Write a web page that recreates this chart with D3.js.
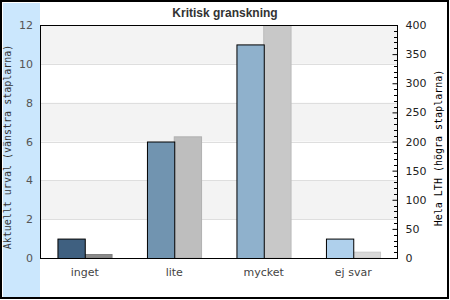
<!DOCTYPE html>
<html>
<head>
<meta charset="utf-8">
<script src="https://cdn.jsdelivr.net/npm/d3@7"></script>
<style>
  body { margin: 0; background: #fff; }
  svg { display: block; }
</style>
</head>
<body>
<svg id="chart" width="450" height="300"></svg>
<script>
// chart data
var categories = ["inget", "lite", "mycket", "ej svar"];
var leftValues = [1, 6, 11, 1];          // Aktuellt urval
var rightValues = [6, 208, 425, 10];     // Hela LTH
var leftColors = ["#3f6080", "#7194b0", "#8fb1cc", "#afd0ec"];
var rightColors = ["#8a8a8a", "#bebebe", "#c8c8c8", "#d8d8d8"];
var leftTicks = [0, 2, 4, 6, 8, 10, 12];
var rightTicks = [0, 50, 100, 150, 200, 250, 300, 350, 400];

var svg = d3.select("#chart");
var m = { left: 40, right: 398, top: 25, bottom: 258 };

// outer frame + blue strip
svg.append("rect")
    .attr("x", 3).attr("y", 3)
    .attr("width", 37).attr("height", 294)
    .attr("fill", "#cbe7fd");
svg.append("rect")
    .attr("x", 1).attr("y", 1)
    .attr("width", 447).attr("height", 297)
    .attr("fill", "none")
    .attr("stroke", "#000")
    .attr("stroke-width", 2);

var x = d3.scaleBand()
    .domain(categories)
    .range([m.left, m.right])
    .paddingInner(0.39)
    .paddingOuter(0.195);
var yL = d3.scaleLinear().domain([0, 12]).range([m.bottom, m.top]);
var yR = d3.scaleLinear().domain([0, 400]).range([m.bottom, m.top]);

// alternating bands
var g = svg.append("g");
for (var i = 0; i < leftTicks.length - 1; i++) {
    if (i % 2 == 1) {
        g.append("rect")
            .attr("x", m.left)
            .attr("y", yL(leftTicks[i + 1]))
            .attr("width", m.right - m.left)
            .attr("height", yL(leftTicks[i]) - yL(leftTicks[i + 1]))
            .attr("fill", "#f3f3f3");
    }
}
g.selectAll(".grid")
    .data(leftTicks.slice(1, -1))
    .enter().append("line")
    .attr("x1", m.left).attr("x2", m.right)
    .attr("y1", function (d) { return Math.round(yL(d)) + 0.5; })
    .attr("y2", function (d) { return Math.round(yL(d)) + 0.5; })
    .attr("stroke", "#dedede");

// bars
svg.append("clipPath").attr("id", "clip")
    .append("rect")
    .attr("x", m.left).attr("y", m.top)
    .attr("width", m.right - m.left).attr("height", m.bottom - m.top);
var bars = svg.append("g").attr("clip-path", "url(#clip)");
var bw = x.bandwidth() / 2;

bars.selectAll(".rbar")
    .data(categories)
    .enter().append("rect")
    .attr("x", function (d) { return x(d) + bw; })
    .attr("y", function (d, i) { return yR(rightValues[i]); })
    .attr("width", bw)
    .attr("height", function (d, i) { return m.bottom - yR(rightValues[i]); })
    .attr("fill", function (d, i) { return rightColors[i]; })
    .attr("stroke", function (d, i) { return d3.color(rightColors[i]).darker(0.2); });

bars.selectAll(".lbar")
    .data(categories)
    .enter().append("rect")
    .attr("x", function (d) { return x(d) + 0.5; })
    .attr("y", function (d, i) { return yL(leftValues[i]) + 0.5; })
    .attr("width", bw)
    .attr("height", function (d, i) { return m.bottom - yL(leftValues[i]); })
    .attr("fill", function (d, i) { return leftColors[i]; })
    .attr("stroke", "#000");

// plot frame
svg.append("rect")
    .attr("x", m.left + 0.5).attr("y", m.top + 0.5)
    .attr("width", m.right - m.left - 1).attr("height", m.bottom - m.top)
    .attr("fill", "none")
    .attr("stroke", "#000");

// left axis: labels only
svg.append("g")
    .attr("transform", "translate(" + m.left + ",0)")
    .call(d3.axisLeft(yL).tickValues(leftTicks).tickSize(0).tickPadding(7))
    .call(function (a) {
        a.select(".domain").remove();
        a.selectAll("text")
            .attr("fill", "#555")
            .style("font", "11px 'DejaVu Sans'");
    });

// right axis with minor ticks
var minor = d3.range(0, 401, 10).filter(function (d) { return d % 50; });
svg.append("g")
    .selectAll("line")
    .data(minor)
    .enter().append("line")
    .attr("x1", m.right - 4).attr("x2", m.right)
    .attr("y1", function (d) { return Math.round(yR(d)) + 0.5; })
    .attr("y2", function (d) { return Math.round(yR(d)) + 0.5; })
    .attr("stroke", "#000");
svg.append("g")
    .attr("transform", "translate(" + (m.right - 0.5) + ",0)")
    .call(d3.axisRight(yR).tickValues(rightTicks).tickSizeInner(-5).tickSizeOuter(0).tickPadding(8))
    .call(function (a) {
        a.select(".domain").remove();
        a.selectAll("line").attr("stroke", "#000");
        a.selectAll("text")
            .attr("fill", "#222")
            .style("font", "11px 'DejaVu Sans'");
    });

// x labels
svg.append("g")
    .attr("transform", "translate(0," + m.bottom + ")")
    .call(d3.axisBottom(x).tickSize(0).tickPadding(10))
    .call(function (a) {
        a.select(".domain").remove();
        a.selectAll("text")
            .attr("fill", "#444")
            .style("font", "11px 'DejaVu Sans'");
    });

// titles
svg.append("text")
    .attr("x", 225).attr("y", 17)
    .attr("text-anchor", "middle")
    .style("font", "bold 12px 'Liberation Sans', Arial, sans-serif")
    .attr("fill", "#333")
    .text("Kritisk granskning");

svg.append("text")
    .attr("transform", "translate(11,147) rotate(-90)")
    .attr("text-anchor", "middle")
    .style("font", "10px 'DejaVu Sans Mono', monospace")
    .attr("fill", "#333")
    .text("Aktuellt urval (vänstra staplarna)");

svg.append("text")
    .attr("transform", "translate(442,148) rotate(-90)")
    .attr("text-anchor", "middle")
    .style("font", "10px 'DejaVu Sans Mono', monospace")
    .attr("fill", "#000")
    .text("Hela LTH (högra staplarna)");
</script>
</body>
</html>
